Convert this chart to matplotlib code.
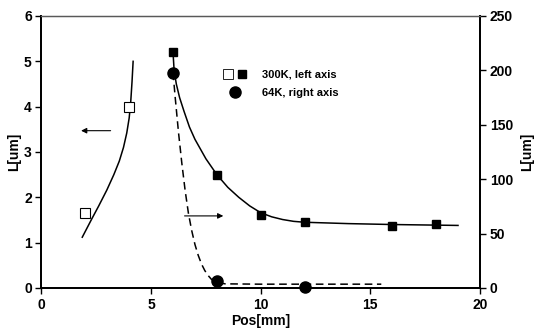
import matplotlib
matplotlib.use("Agg")
import matplotlib.pyplot as plt
from matplotlib.legend_handler import HandlerTuple

plt.rcParams['font.family'] = ['Liberation Sans', 'DejaVu Sans']
plt.rcParams['font.weight'] = 'bold'

# 300K measured points (left axis)
pos_300_open = [2, 4]
len_300_open = [1.66, 4.0]
pos_300_fill = [6, 8, 10, 12, 16, 18]
len_300_fill = [5.2, 2.5, 1.6, 1.45, 1.37, 1.41]

# 64K measured points (right axis)
pos_64 = [6, 8, 12]
len_64 = [198, 6, 1]

# trend curves
curve_open_x = [1.86, 2.29, 2.6, 2.98, 3.3, 3.55, 3.74, 3.89, 4.0, 4.07, 4.13, 4.18]
curve_open_y = [1.12, 1.52, 1.8, 2.16, 2.5, 2.8, 3.1, 3.42, 3.75, 4.1, 4.55, 5.0]
curve_fill_x = [6.0, 6.05, 6.15, 6.3, 6.5, 6.75, 7.0, 7.5, 8.0, 8.5, 9.0, 9.5, 10.0,
                10.5, 11.0, 11.5, 12.0, 14.0, 16.0, 19.0]
curve_fill_y = [5.2, 4.8, 4.5, 4.2, 3.9, 3.55, 3.28, 2.85, 2.5, 2.22, 2.0, 1.81, 1.66,
                1.57, 1.51, 1.47, 1.45, 1.42, 1.4, 1.38]
curve_64_x = [6.0, 6.1, 6.25, 6.4, 6.55, 6.7, 6.85, 7.0, 7.15, 7.3, 7.45, 7.6, 7.75, 7.9,
              8.1, 8.4, 10.0, 15.5]
curve_64_y = [198, 175, 143, 115, 90, 69, 53, 40, 30, 22, 16, 11.5, 8, 6, 4.5, 3.8, 3.5, 3.5]

fig = plt.figure(figsize=(5.36, 3.36), dpi=100)
ax = fig.add_axes([0.0774, 0.1429, 0.818, 0.8095])
ax2 = ax.twinx()

ax.plot(curve_open_x, curve_open_y, color='black', lw=1.1)
ax.plot(curve_fill_x, curve_fill_y, color='black', lw=1.1)
ax2.plot(curve_64_x, curve_64_y, color='black', lw=1.1, ls=(0, (5, 3)))

ax.plot(pos_300_open, len_300_open, 's', ms=7.5, mfc='white', mec='black', mew=0.8)
ax.plot(pos_300_fill, len_300_fill, 's', ms=5.5, color='black')
ax2.plot(pos_64, len_64, 'o', ms=8, color='black', clip_on=False, zorder=5)

# direction arrows
ax.annotate('', xy=(1.68, 3.47), xytext=(3.28, 3.47),
            arrowprops=dict(arrowstyle='-|>', color='black', lw=0.8, mutation_scale=8))
ax.annotate('', xy=(8.42, 1.59), xytext=(6.4, 1.59),
            arrowprops=dict(arrowstyle='-|>', color='black', lw=0.8, mutation_scale=8))

ax.set_xlim(0, 20)
ax.set_ylim(0, 6)
ax2.set_ylim(0, 250)
ax.set_xticks([0, 5, 10, 15, 20])
ax.set_yticks(range(0, 7))
ax2.set_yticks([0, 50, 100, 150, 200, 250])

ax.set_xlabel('Pos[mm]', fontsize=10, fontweight='bold', labelpad=2)
ax.set_ylabel('L[um]', fontsize=10, fontweight='bold', labelpad=2)
ax2.set_ylabel('L[um]', fontsize=10, fontweight='bold', labelpad=5)

for a in (ax, ax2):
    a.tick_params(direction='out', length=4, width=1, labelsize=10, pad=3)
    for s in a.spines.values():
        s.set_linewidth(1.3)
    a.spines['top'].set_color('0.35')
    a.spines['top'].set_linewidth(0.9)

# legend handles (smaller markers than the plotted ones)
h_open_leg, = ax.plot([], [], 's', ms=6.5, mfc='white', mec='black', mew=0.6)
h_fill_leg, = ax.plot([], [], 's', ms=6, color='black')
h_circ_leg, = ax.plot([], [], 'o', ms=8, color='black')
ax2.legend([(h_open_leg, h_fill_leg), h_circ_leg], ['300K, left axis', '64K, right axis'],
           handler_map={tuple: HandlerTuple(ndivide=None, pad=0.5)},
           loc='upper left', bbox_to_anchor=(0.405, 0.82), frameon=False,
           prop={'size': 8, 'weight': 'bold'}, handlelength=2.0,
           handletextpad=1.5, labelspacing=0.8, borderaxespad=0)

fig.savefig('out.png', dpi=100)
